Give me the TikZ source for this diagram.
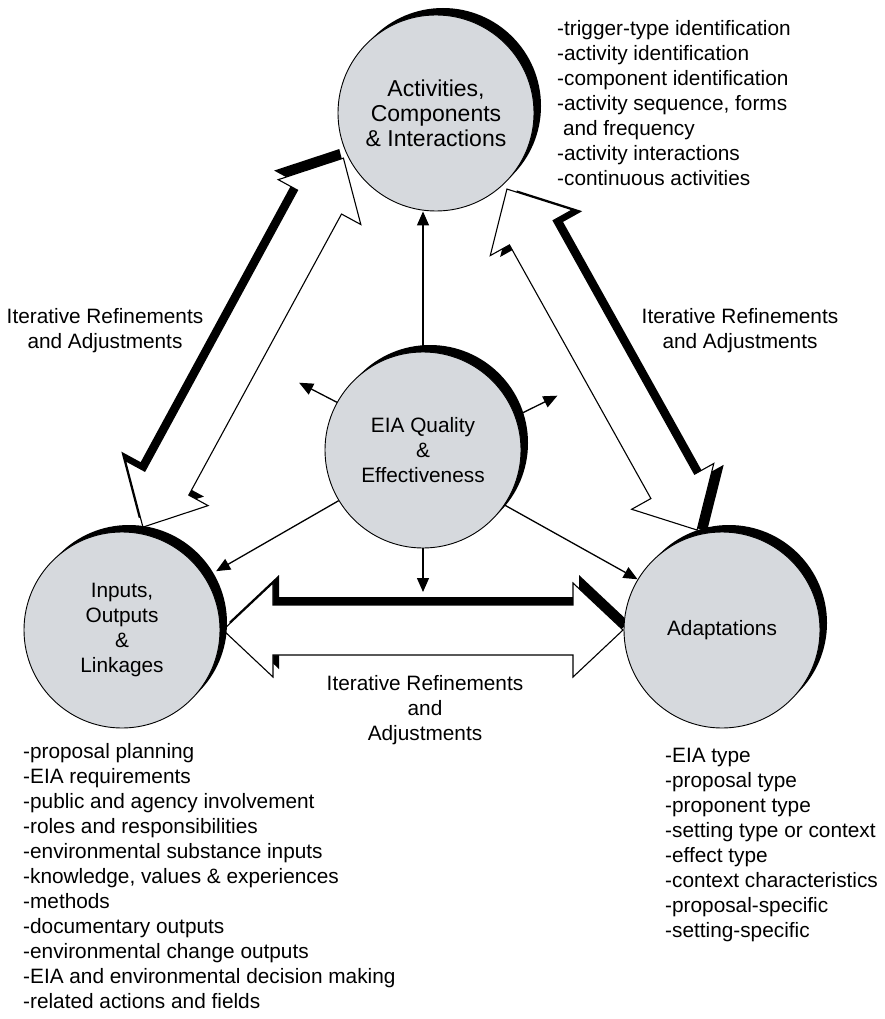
\documentclass[tikz,border=0pt]{standalone}
\usepackage{fontspec}
\setmainfont{Liberation Sans}
\usetikzlibrary{calc,arrows.meta,shadows}
\definecolor{discgray}{RGB}{214,217,221}

% outline of a double-headed block arrow, along the local x axis, length \baLen
\def\bashape{(0,0) -- (50,47) -- (50,25) -- (\baLen-50,25) -- (\baLen-50,47)
  -- (\baLen,0) -- (\baLen-50,-47) -- (\baLen-50,-25) -- (50,-25) -- (50,-47) -- cycle}

% white block arrow with a solid black offset shadow, from #1 to #2
\newcommand\blockarrowbetween[2]{%
  \pgfpointdiff{\pgfpointanchor{#1}{center}}{\pgfpointanchor{#2}{center}}%
  \pgfgetlastxy\baX\baY
  \pgfmathsetmacro\baAng{atan2(\baY,\baX)}%
  \pgfmathsetmacro\baLen{veclen(\baX,\baY)}%
  \begin{scope}[shift={(#1)}, rotate=\baAng, x=1pt, y=1pt]
    \fill[black, shift={(6,8)}] \bashape;
    \filldraw[fill=white, draw=black, line width=1.1pt, line join=miter] \bashape;
  \end{scope}}

\begin{document}
\begin{tikzpicture}[x=1pt, y=-1pt,
  disc/.style={circle, minimum size=196pt, inner sep=0pt, draw=black,
    line width=0.9pt, fill=discgray, align=center,
    font=\fontsize{20.8}{25}\selectfont,
    drop shadow={shadow xshift=7pt, shadow yshift=7pt, opacity=1, fill=black}},
  tarrow/.style={line width=1.3pt, -{Triangle[length=14pt,width=12pt]}},
  listtext/.style={align=left, inner sep=0pt, font=\fontsize{20.8}{25}\selectfont},
  lbl/.style={align=center, inner sep=0pt, font=\fontsize{20.8}{25}\selectfont}]
\useasboundingbox (0,0) rectangle (884,1019);

% centres of the four discs
\coordinate (cAct) at (436,113);
\coordinate (cEia) at (423,450);
\coordinate (cInp) at (122,630);
\coordinate (cAda) at (722,630);

% tips of the three block arrows
\coordinate (lA) at ($(cInp)+(78.5:105pt)$);
\coordinate (lB) at ($(cAct)+(206:103pt)$);
\coordinate (rA) at ($(cAct)+(-47:104pt)$);
\coordinate (rB) at ($(cAda)+(104:103pt)$);
\coordinate (hA) at ($(cInp)+(0:101pt)$);
\coordinate (hB) at ($(cAda)+(180:99pt)$);

\blockarrowbetween{lA}{lB}
\blockarrowbetween{rA}{rB}
\blockarrowbetween{hA}{hB}

% discs
\node[disc, font=\fontsize{23}{25}\selectfont] (act) at (cAct) {Activities,\\Components\\\& Interactions};
\node[disc] (eia) at (cEia) {EIA Quality\\\&\\Effectiveness};
\node[disc] (inp) at (cInp) {Inputs,\\Outputs\\\&\\Linkages};
\node[disc] (ada) at (cAda) {Adaptations};

% thin arrows out of the central disc
\coordinate (ulEnd) at ($(cEia)+(151.5:141pt)$);
\coordinate (urEnd) at ($(cEia)+(22:145pt)$);
\coordinate (dnEnd) at (423,592);
\coordinate (inpHit) at ($(cInp)+(32:111pt)$);
\draw[tarrow] (eia.north) -- (eia.north |- act.south);
\draw[tarrow] (eia.151.5) -- (ulEnd);
\draw[tarrow] (eia.20) -- (urEnd);
\draw[tarrow] (eia.south) -- (dnEnd);
\draw[tarrow] (eia.211.5) -- (inpHit);
\draw[tarrow] (eia.-34) -- (ada.149);

% labels of the block arrows
\node[lbl, anchor=north] (lblL) at (105,308) {Iterative Refinements\\and Adjustments};
\node[lbl, anchor=north] (lblR) at (740,308) {Iterative Refinements\\and Adjustments};
\node[lbl, anchor=north] (lblB) at (425,675) {Iterative Refinements\\and\\Adjustments};

% item lists
\node[listtext, anchor=north west] (listAct) at (557,20) {-trigger-type identification\\-activity identification\\-component identification\\-activity sequence, forms\\\hspace*{5.8pt}and frequency\\-activity interactions\\-continuous activities};
\node[listtext, anchor=north west] (listInp) at (23,743) {-proposal planning\\-EIA requirements\\-public and agency involvement\\-roles and responsibilities\\-environmental substance inputs\\-knowledge, values \& experiences\\-methods\\-documentary outputs\\-environmental change outputs\\-EIA and environmental decision making\\-related actions and fields};
\node[listtext, anchor=north west] (listAda) at (665,748) {-EIA type\\-proposal type\\-proponent type\\-setting type or context\\-effect type\\-context characteristics\\-proposal-specific\\-setting-specific};
\end{tikzpicture}
\end{document}
